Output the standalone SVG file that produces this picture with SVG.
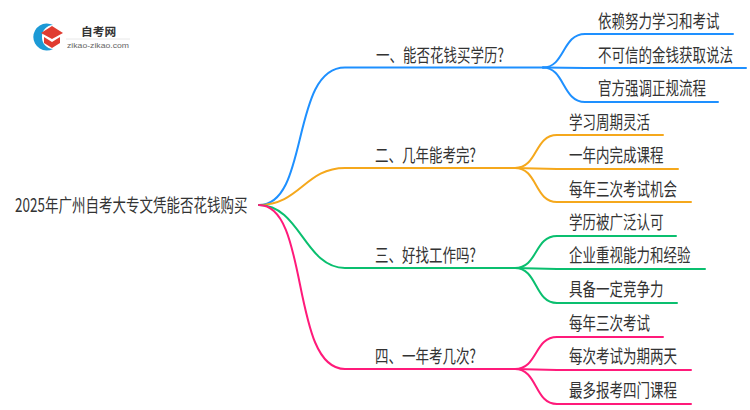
<svg xmlns="http://www.w3.org/2000/svg" width="750" height="410" viewBox="0 0 750 410">
<style>
text{font-family:"Noto Sans CJK SC","Liberation Sans",sans-serif;fill:#333;font-size:18.500px}
.t{transform:scale(.73,1)}
.l{fill:none;stroke-width:2;stroke-linecap:round}
.b{stroke:#1e90ff}.o{stroke:#f5a81c}.g{stroke:#0abf6f}.p{stroke:#ff1a7a}
</style>
<rect width="750" height="410" fill="#fff"/>
<g id="connectors">
<path class="l b" d="M259 205C310 205 290 67.500 345 67.500H543"/>
<path class="l o" d="M259 205C300 205 305 168 345 168H515"/>
<path class="l g" d="M259 205C300 205 305 268 345 268H515"/>
<path class="l p" d="M259 205C310 205 290 369 345 369H515"/>
<path class="l b" d="M543 67.500C565 67.500 562 34 585 34H733"/>
<path class="l b" d="M543 67.500L585 68H746"/>
<path class="l b" d="M543 67.500C565 67.500 562 102 585 102H718"/>
<path class="l o" d="M515 168C538 168 534 135 557 135H663"/>
<path class="l o" d="M515 168L557 169H678"/>
<path class="l o" d="M515 168C538 168 534 202 557 202H691"/>
<path class="l g" d="M515 268C538 268 534 236 557 236H676"/>
<path class="l g" d="M515 268L557 269H705"/>
<path class="l g" d="M515 268C538 268 534 303 557 303H677"/>
<path class="l p" d="M515 369C538 369 534 337 557 337H663"/>
<path class="l p" d="M515 369L557 370H691"/>
<path class="l p" d="M515 369C538 369 534 404 557 404H691"/>
</g>
<g id="logo">
<path d="M53 25A13.500 13.500 0 1 0 53 49A11.500 11.500 0 0 1 42 37A11.500 11.500 0 0 1 53 25Z" fill="#1c9ad6"/>
<path d="M41 33L52 26L63 33L52 39Z" fill="#e03c31"/>
<path d="M44 37L52 42L60 37V43L52 48L44 43Z" fill="#e03c31"/>
<text x="81" y="35.500" style="font-size:11.700px;font-weight:700">自考网</text>
<path d="M66 39H130" stroke="#e8e8e8" fill="none"/>
<text x="67" y="48" textLength="62" lengthAdjust="spacingAndGlyphs" style="font-family:'Liberation Sans',sans-serif;fill:#666;font-size:7.500px">zikao-zikao.com</text>
</g>
<g id="root" transform="translate(15 212)"><text class="t">2025年广州自考大专文凭能否花钱购买</text></g>
<g id="n1" transform="translate(376 62)"><text class="t">一、能否花钱买学历?</text></g>
<g id="n2" transform="translate(375 162)"><text class="t">二、几年能考完?</text></g>
<g id="n3" transform="translate(375 262)"><text class="t">三、好找工作吗?</text></g>
<g id="n4" transform="translate(375 363)"><text class="t">四、一年考几次?</text></g>
<g id="n1a" transform="translate(598 28)"><text class="t">依赖努力学习和考试</text></g>
<g id="n1b" transform="translate(598 62)"><text class="t">不可信的金钱获取说法</text></g>
<g id="n1c" transform="translate(598 95)"><text class="t">官方强调正规流程</text></g>
<g id="n2a" transform="translate(569 129)"><text class="t">学习周期灵活</text></g>
<g id="n2b" transform="translate(569 162)"><text class="t">一年内完成课程</text></g>
<g id="n2c" transform="translate(569 196)"><text class="t">每年三次考试机会</text></g>
<g id="n3a" transform="translate(569 229)"><text class="t">学历被广泛认可</text></g>
<g id="n3b" transform="translate(569 262)"><text class="t">企业重视能力和经验</text></g>
<g id="n3c" transform="translate(569 296)"><text class="t">具备一定竞争力</text></g>
<g id="n4a" transform="translate(569 330)"><text class="t">每年三次考试</text></g>
<g id="n4b" transform="translate(569 363)"><text class="t">每次考试为期两天</text></g>
<g id="n4c" transform="translate(569 397)"><text class="t">最多报考四门课程</text></g>
</svg>
